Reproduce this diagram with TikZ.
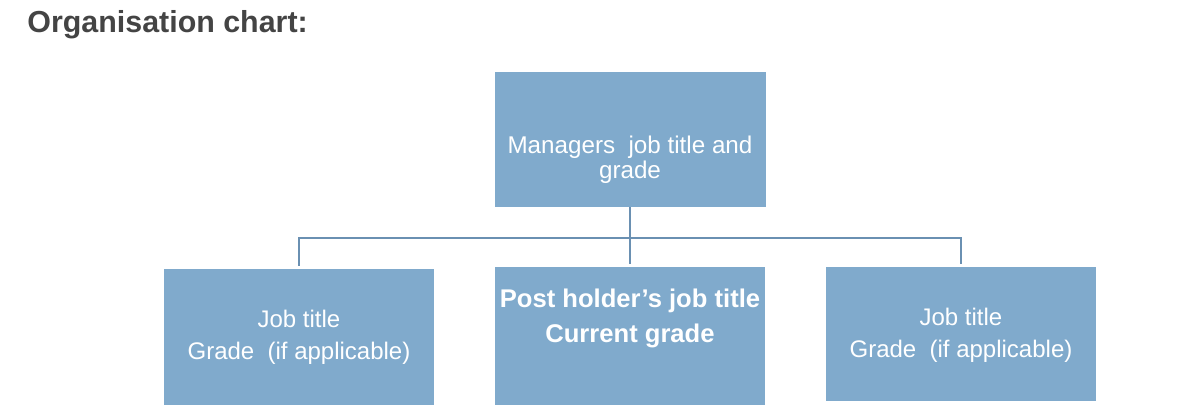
\documentclass[tikz,border=0pt]{standalone}
\usepackage{fontspec}
\setmainfont{Liberation Sans}
\definecolor{boxblue}{HTML}{80AACC}
\definecolor{linkblue}{HTML}{6A90B2}
\definecolor{titlegray}{HTML}{444444}

\begin{document}
\begin{tikzpicture}[x=0.5pt, y=-0.5pt,
        box/.style={rectangle, fill=boxblue, inner sep=0pt, minimum width=135pt},
        boxtext/.style={text=white, align=center, inner sep=0pt, font=\fontsize{12}{16}\selectfont},
        link/.style={draw=linkblue, line width=1.2pt}]
        \useasboundingbox (0,0) rectangle (1190,405);
        % Heading
        \node[anchor=base west, inner sep=0pt, text=titlegray, font=\fontsize{15.2}{18}\selectfont\bfseries] (heading) at (27,33) {Organisation chart:};

        % Boxes
        \node[box, minimum width=135.5pt, minimum height=67.5pt] (mgr) at (630,139.5) {};
        \node[box, minimum height=70.5pt] (jobl) at (299,339.5) {};
        \node[box, minimum height=71.5pt] (post) at (630,338.5) {};
        \node[box, minimum height=67pt] (jobr) at (961,334) {};

        % Box texts
        \node[boxtext, font=\fontsize{12.1}{12.5}\selectfont] (mgrtext) at (630,160) {Managers\ \ job title and\\grade};
        \node[boxtext] (jobltext) at (299,337) {Job title\\Grade\ \ (if applicable)};
        \node[boxtext, font=\fontsize{12.8}{17.5}\selectfont\bfseries] (posttext) at (630,318) {Post holder's job title\\Current grade};
        \node[boxtext] (jobrtext) at (961,335) {Job title\\Grade\ \ (if applicable)};

        % Reporting lines
        \coordinate (hub) at (630,238);
        \draw[link] (mgr.south) -- (hub);
        \draw[link, shorten >=1.5pt] (hub) -| (jobl.north);
        \draw[link, shorten >=1.5pt] (hub) -- (post.north);
        \draw[link, shorten >=1.5pt] (hub) -| (jobr.north);
    \end{tikzpicture}
\end{document}
